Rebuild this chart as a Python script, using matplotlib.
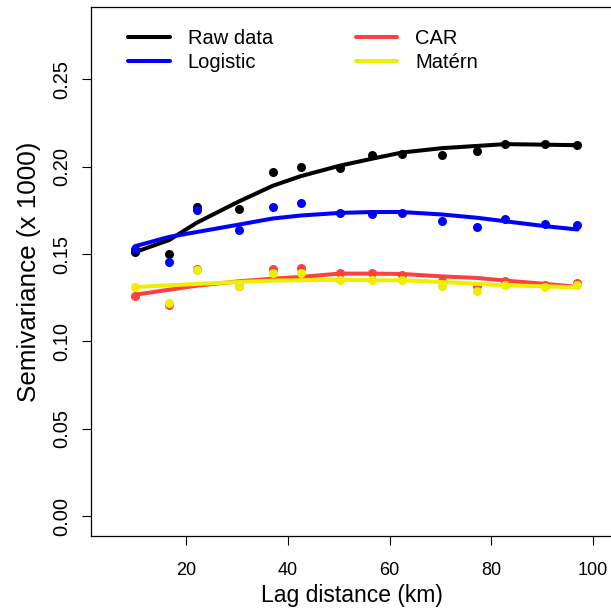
import matplotlib.pyplot as plt

plt.rcParams['font.family'] = ['Liberation Sans', 'DejaVu Sans']

# lag distances (km)
lag = [9.8, 16.6, 22.1, 30.3, 37.0, 42.5, 50.2, 56.6, 62.4, 70.3, 77.3, 82.8, 90.7, 97.0]

# empirical semivariances (x 1000)
raw_pts = [0.151, 0.150, 0.177, 0.1756, 0.197, 0.200, 0.199, 0.2065, 0.207, 0.2065, 0.209, 0.213, 0.213, 0.2122]
logit_pts = [0.153, 0.1455, 0.175, 0.1636, 0.177, 0.179, 0.1735, 0.173, 0.1735, 0.1686, 0.1653, 0.170, 0.1674, 0.1667]
car_pts = [0.1258, 0.121, 0.1416, 0.1315, 0.1416, 0.1418, 0.139, 0.139, 0.138, 0.1346, 0.1319, 0.1346, 0.1325, 0.1334]
matern_pts = [0.131, 0.122, 0.141, 0.1315, 0.1392, 0.1392, 0.1353, 0.135, 0.135, 0.1319, 0.129, 0.1325, 0.131, 0.132]

# smoothed curves
raw_fit = [0.151, 0.158, 0.168, 0.180, 0.189, 0.1945, 0.2005, 0.2045, 0.208, 0.2105, 0.2118, 0.2128, 0.2125, 0.2122]
logit_fit = [0.1544, 0.1598, 0.1626, 0.1668, 0.1703, 0.172, 0.1735, 0.174, 0.174, 0.1726, 0.1707, 0.1687, 0.1659, 0.164]
car_fit = [0.1267, 0.1296, 0.1319, 0.1344, 0.1359, 0.1369, 0.1388, 0.1388, 0.1386, 0.1372, 0.1363, 0.1348, 0.1329, 0.1312]
matern_fit = [0.1311, 0.1321, 0.1329, 0.134, 0.1348, 0.135, 0.1353, 0.135, 0.135, 0.134, 0.1329, 0.1321, 0.1315, 0.1309]

series = [
    ("Raw data", raw_pts, raw_fit, "black"),
    ("Logistic", logit_pts, logit_fit, "#0000FF"),
    ("CAR", car_pts, car_fit, "#FF4040"),
    ("Matérn", matern_pts, matern_fit, "#EEEE00"),
]

fig = plt.figure(figsize=(6.11, 6.13), dpi=100)
ax = fig.add_axes([91 / 611, 77 / 613, 521 / 611, 529 / 613])

for name, pts, fit, col in series:
    ax.plot(lag, pts, "o", color=col, ms=6.5, mew=0)
    ax.plot(lag, fit, "-", color=col, lw=2.9, label=name, solid_capstyle="round")

ax.set_xlim(1.2, 103.8)
ax.set_ylim(-0.0112, 0.2912)
ax.set_xticks([20, 40, 60, 80, 100])
ax.set_yticks([0.0, 0.05, 0.10, 0.15, 0.20, 0.25])
ax.set_yticklabels(["0.00", "0.05", "0.10", "0.15", "0.20", "0.25"], rotation=90, va="center")
ax.tick_params(length=6.5, width=0.8, labelsize=13, pad=12)
ax.tick_params(axis="y", labelsize=14.5, pad=8)
for s in ax.spines.values():
    s.set_linewidth(0.9)

ax.set_xlabel("Lag distance (km)", fontsize=16.5, labelpad=4)
ax.set_ylabel("Semivariance (x 1000)", fontsize=18.7, labelpad=8)

ax.legend(loc="upper left", bbox_to_anchor=(0.071, 0.958), ncol=2, frameon=False,
          fontsize=14.5, handlelength=2.07, handletextpad=0.9, columnspacing=4.1,
          labelspacing=0.25, borderpad=0, borderaxespad=0)

fig.savefig("out.png", dpi=100)
